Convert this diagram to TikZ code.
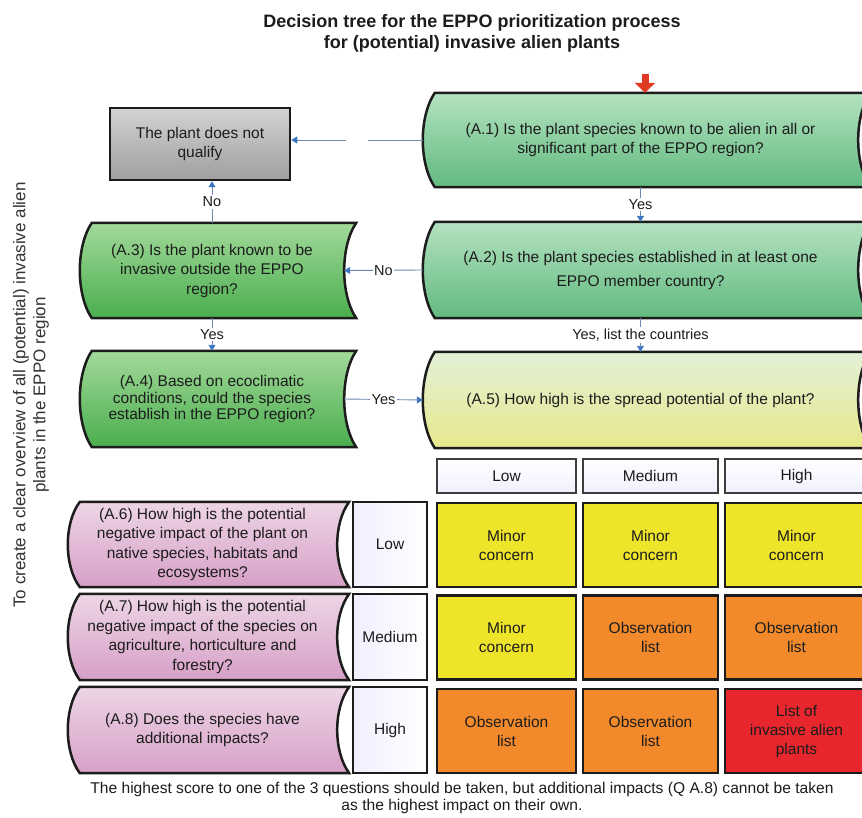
\documentclass[tikz,border=0pt]{standalone}
\usepackage{fontspec}
\setmainfont{Liberation Sans}
\usetikzlibrary{arrows.meta, calc, backgrounds}
\definecolor{ink}{HTML}{1C1C1C}
\definecolor{linkc}{HTML}{6A8AB4}
\definecolor{linkhead}{HTML}{3C76BE}
\definecolor{mintop}{HTML}{B4E2C0}
\definecolor{minbot}{HTML}{62BA80}
\definecolor{leaftop}{HTML}{A2D99A}
\definecolor{leafbot}{HTML}{4AAE4E}
\definecolor{lemontop}{HTML}{E3F0D8}
\definecolor{lemonbot}{HTML}{E7E88C}
\definecolor{pinktop}{HTML}{EDD5E6}
\definecolor{pinkbot}{HTML}{D7A0C7}
\definecolor{minor}{HTML}{EEE52B}
\definecolor{observe}{HTML}{F28A2C}
\definecolor{invasive}{HTML}{E8262E}
\definecolor{arrowred}{HTML}{E03A24}

\tikzset{
  qtext/.style={align=center, inner sep=0pt, text=ink, font=\fontsize{15.5}{19.5}\selectfont},
  link/.style={draw=linkc, line width=0.9pt, -{Triangle[width=7pt,length=6pt,color=linkhead]}},
  lab/.style={fill=white, inner sep=1.5pt, text=ink, font=\fontsize{14.5}{17}\selectfont},
  cell/.style={draw=ink, line width=2.5pt, align=center, inner sep=0pt, text=ink, font=\fontsize{15.5}{19}\selectfont},
  head/.style={draw=ink!85, line width=2pt, top color=white, bottom color=blue!6, inner sep=0pt, text=ink, font=\fontsize{15.5}{19}\selectfont, minimum height=34pt},
  level/.style={draw=ink, line width=2.5pt, left color=blue!6, right color=white, minimum width=74pt, inner sep=0pt, text=ink, font=\fontsize{15.5}{19}\selectfont},
}

% stored-data outline round a node: bulging left side, hollow right side
\newcommand{\datashape}[3]{%
  \path[draw=ink, line width=2.5pt, top color=#2, bottom color=#3]
    let \p1=(#1.north west), \p2=(#1.south east), \n1={\y2-\y1} in
    (\x1+12pt,\y1) -- (\x2+12pt,\y1)
    .. controls (\x2-4pt,\y1+0.25*\n1) and (\x2-4pt,\y2-0.25*\n1) .. (\x2+12pt,\y2)
    -- (\x1+12pt,\y2)
    .. controls (\x1-4pt,\y2-0.25*\n1) and (\x1-4pt,\y1+0.25*\n1) .. cycle;}

\begin{document}
\begin{tikzpicture}[x=1pt, y=-1pt]
  \useasboundingbox (0,0) rectangle (862,818);
  \clip (0,0) rectangle (862,818);

  % titles
  \node[font=\bfseries\fontsize{18}{21}\selectfont, text=ink, align=center] (title) at (472,33)
    {Decision tree for the EPPO prioritization process\\for (potential) invasive alien plants};
  \node[rotate=90, font=\fontsize{17}{20}\selectfont, text=ink!90, align=center] (goal) at (31,395)
    {To create a clear overview of all (potential) invasive alien\\plants in the EPPO region};

  % questions
  \node[qtext, minimum width=435pt, minimum height=94pt] (qa1) at (640.5,140)
    {(A.1) Is the plant species known to be alien in all or\\significant part of the EPPO region?};
  \node[qtext, minimum width=435pt, minimum height=96pt, font=\fontsize{15.5}{24}\selectfont] (qa2) at (640.5,270)
    {(A.2) Is the plant species established in at least one\\EPPO member country?};
  \node[qtext, minimum width=435pt, minimum height=96pt] (qa5) at (640.5,400)
    {(A.5) How high is the spread potential of the plant?};
  \node[qtext, minimum width=264pt, minimum height=95pt] (qa3) at (212,270.5)
    {(A.3) Is the plant known to be\\invasive outside the EPPO\\region?};
  \node[qtext, minimum width=264pt, minimum height=96pt, font=\fontsize{15.5}{16.5}\selectfont] (qa4) at (212,399)
    {(A.4) Based on ecoclimatic\\conditions, could the species\\establish in the EPPO region?};
  \node[qtext, minimum width=269pt, minimum height=85pt] (qa6) at (202.5,544.5)
    {(A.6) How high is the potential\\negative impact of the plant on\\native species, habitats and\\ecosystems?};
  \node[qtext, minimum width=269pt, minimum height=86pt] (qa7) at (202.5,637)
    {(A.7) How high is the potential\\negative impact of the species on\\agriculture, horticulture and\\forestry?};
  \node[qtext, minimum width=269pt, minimum height=86pt] (qa8) at (202.5,730)
    {(A.8) Does the species have\\additional impacts?};

  \node[draw=ink, line width=2.5pt, top color=gray!35, bottom color=gray!75, align=center, text=ink,
        font=\fontsize{15.5}{19.5}\selectfont, minimum width=180pt, minimum height=72pt] (noqual) at (200,144)
    {The plant does not\\qualify};

  % matrix
  \node[head, minimum width=139pt] (hlow) at (506.5,476) {Low};
  \node[head, minimum width=135pt] (hmed) at (650.5,476) {Medium};
  \node[head, minimum width=143pt] (hhigh) at (796.5,476) {High};
  \node[level, minimum height=85pt] (rlow) at (390,544.5) {Low};
  \node[level, minimum height=86pt] (rmed) at (390,637) {Medium};
  \node[level, minimum height=86pt] (rhigh) at (390,730) {High};
  \foreach \n/\x/\w/\y/\c/\t in {
      11/506.5/139/545/minor/{Minor\\concern},
      21/650.5/135/545/minor/{Minor\\concern},
      31/796.5/143/545/minor/{Minor\\concern},
      12/506.5/139/637.5/minor/{Minor\\concern},
      22/650.5/135/637.5/observe/{Observation\\list},
      32/796.5/143/637.5/observe/{Observation\\list},
      13/506.5/139/731/observe/{Observation\\list},
      23/650.5/135/731/observe/{Observation\\list},
      33/796.5/143/731/invasive/{List of\\invasive alien\\plants}}
    \node[cell, fill=\c, minimum width=\w pt, minimum height=84pt] (cell\n) at (\x,\y) {\t};

  \node[font=\fontsize{15.6}{16.5}\selectfont, text=ink, align=center] (note) at (462,798)
    {The highest score to one of the 3 questions should be taken, but additional impacts (Q A.8) cannot be taken\\as the highest impact on their own.};

  % connectors
  \coordinate (entry) at (645,74);
  \draw[arrowred, line width=7pt, -{Triangle[width=20pt,length=10pt]}] (entry) -- (entry |- qa1.north);
  \draw[link] (qa1.west) -- node[lab, minimum width=22pt, minimum height=10pt]{} (qa1.west -| noqual.east);
  \draw[link] (qa1.south) -- node[lab]{Yes} (qa2.north);
  \draw[link] (qa2.west) -- node[lab]{No} (qa3.east);
  \draw[link] (qa3.north) -- node[lab]{No} (qa3.north |- noqual.south);
  \draw[link] (qa3.south) -- node[lab]{Yes} (qa4.north);
  \draw[link] (qa2.south) -- node[lab]{Yes, list the countries} (qa5.north);
  \draw[link] (qa4.east) -- node[lab]{Yes} (qa5.west);

  \begin{scope}[on background layer]
    \clip (0,0) rectangle (862,818);
    \fill[white] (0,0) rectangle (862,818);
    \datashape{qa1}{mintop}{minbot}
    \datashape{qa2}{mintop}{minbot}
    \datashape{qa5}{lemontop}{lemonbot}
    \datashape{qa3}{leaftop}{leafbot}
    \datashape{qa4}{leaftop}{leafbot}
    \datashape{qa6}{pinktop}{pinkbot}
    \datashape{qa7}{pinktop}{pinkbot}
    \datashape{qa8}{pinktop}{pinkbot}
  \end{scope}
\end{tikzpicture}
\end{document}
